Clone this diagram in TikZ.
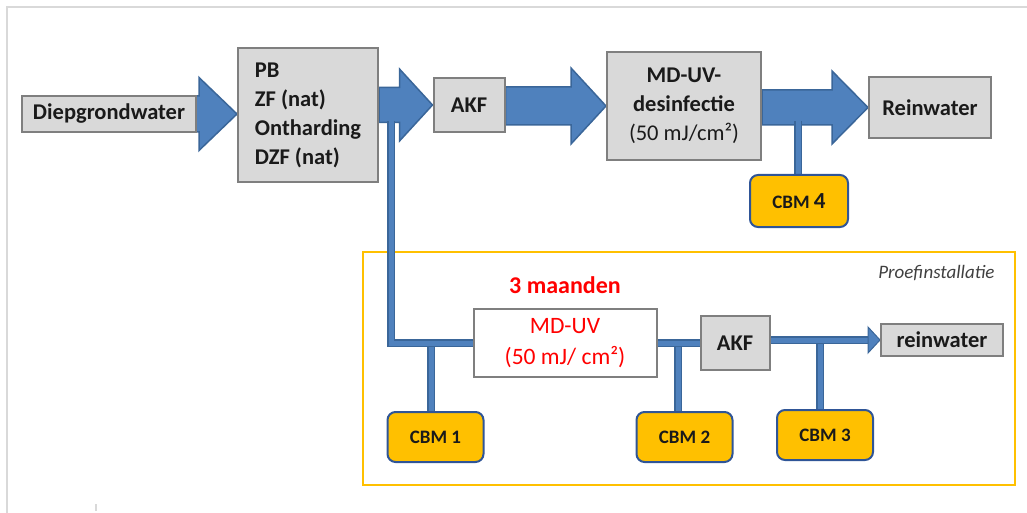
\documentclass[tikz,border=0pt]{standalone}
\usepackage{fontspec}
\setmainfont{Carlito}
\usetikzlibrary{calc,backgrounds}
\definecolor{boxgray}{HTML}{D9D9D9}
\definecolor{boxedge}{HTML}{7F7F7F}
\definecolor{bluefill}{HTML}{4F81BD}
\definecolor{blueedge}{HTML}{3A6699}
\definecolor{cbmfill}{HTML}{FFC000}
\definecolor{cbmedge}{HTML}{2F5597}
\definecolor{frameorange}{HTML}{FFC000}
\definecolor{textdark}{HTML}{1A1A1A}
\definecolor{pagegray}{HTML}{D9D9D9}
\definecolor{notegray}{HTML}{404040}
\tikzset{
  graybox/.style={draw=boxedge, line width=2pt, fill=boxgray, inner sep=0pt, text=textdark,
    font=\fontsize{22.5}{29}\selectfont\bfseries},
  whitebox/.style={draw=boxedge, line width=2pt, fill=white, inner sep=0pt, text=red,
    font=\fontsize{23.5}{31}\selectfont},
  cbmbox/.style={draw=cbmedge, line width=2pt, fill=cbmfill, rounded corners=8pt, inner sep=0pt,
    minimum width=96pt, minimum height=50pt, font=\fontsize{19}{22}\selectfont\bfseries, text=textdark},
  barrow/.style={fill=bluefill, draw=blueedge, line width=1.5pt, line join=miter},
  pipe/.style={draw=bluefill, line width=5pt, line join=miter,
    preaction={draw=blueedge, line width=8pt, line join=miter}},
  tiphead/.style={fill=bluefill, draw=blueedge, line width=1pt},
  framebox/.style={draw=frameorange, line width=2.5pt, inner sep=0pt},
}
% #1 start node anchor, #2 tip anchor, #3 shaft half, #4 head half, #5 head length
\newcommand\blockarr[5]{%
  \path[barrow] ($(#1 |- #2)+(0,#3)$) -- ($(#2)+(-#5,#3)$) -- ($(#2)+(-#5,#4)$) -- (#2)
    -- ($(#2)+(-#5,-#4)$) -- ($(#2)+(-#5,-#3)$) -- ($(#1 |- #2)+(0,-#3)$) -- cycle;}
\begin{document}
\begin{tikzpicture}[x=1pt,y=-1pt]
\useasboundingbox (0,0) rectangle (1027,513);
\draw[pagegray, line width=2pt] (7,513) -- (7,7) -- (1027,7);
\draw[pagegray, line width=1.5pt] (96,504) -- (96,511);

% top row
\node[graybox, minimum width=174pt, minimum height=36pt] (dg) at (109,114) {Diepgrondwater};
\node[graybox, minimum width=140pt, minimum height=134pt, align=left] (pb) at (308,115)
  {PB\\ZF (nat)\\Ontharding\\DZF (nat)};
\node[graybox, minimum width=71pt, minimum height=54pt] (akf) at (469,105) {AKF};
\node[graybox, minimum width=154pt, minimum height=108pt, align=center] (mduv) at (684,106)
  {MD-UV-\\desinfectie\\{\mdseries (50 mJ/cm²)}};
\node[graybox, minimum width=122pt, minimum height=61pt] (rw) at (930,107.5) {Reinwater};
\node[cbmbox, minimum width=98pt, minimum height=52pt] (cbm4) at (799,201)
  {CBM {\fontsize{23}{23}\selectfont 4}};

% test installation
\node[red, font=\fontsize{24}{27}\selectfont\bfseries] (maand) at (565,285) {3 maanden};
\node[anchor=east, text=notegray, font=\fontsize{19}{21}\selectfont\itshape] (proef) at (998,273)
  {Proefinstallatie};
\node[whitebox, minimum width=183pt, minimum height=68pt, align=center] (mduv2) at (565,343)
  {MD-UV\\(50 mJ/ cm²)};
\node[graybox, minimum width=69pt, minimum height=54pt] (akf2) at (735,343) {AKF};
\node[graybox, minimum width=122pt, minimum height=32pt] (rw2) at (942,340) {reinwater};
\node[cbmbox] (cbm1) at (435.5,437) {CBM 1};
\node[cbmbox] (cbm2) at (684.5,437) {CBM 2};
\node[cbmbox] (cbm3) at (825,435) {CBM 3};

\coordinate (v0) at (391,121);
\coordinate (j0) at (391,343);
\coordinate (t1) at (431,343);
\coordinate (t2) at (678,343);
\coordinate (t3) at (820,343);
\coordinate (t4) at (798,121);
\coordinate (hb) at (868,340);

\begin{pgfonlayer}{background}
  \node[framebox, minimum width=652pt, minimum height=233pt] (frame) at (689,368.5) {};
  \blockarr{dg.center}{pb.west |- dg.east}{18}{36.5}{38}
  \blockarr{pb.east}{akf.west}{17.5}{36}{33}
  \blockarr{akf.east}{mduv.west}{19}{38}{35}
  \blockarr{mduv.east}{rw.west}{17.5}{36.5}{36}
  \draw[pipe] (t4) -- (t4 |- cbm4.north);
  \draw[pipe] (t1) -- (t1 |- cbm1.north);
  \draw[pipe] (t2) -- (t2 |- cbm2.north);
  \draw[pipe] (t3) -- (t3 |- cbm3.north);
  \draw[pipe] (v0) -- (j0) -- (mduv2.west);
  \draw[pipe] (mduv2.east) -- (akf2.west);
  \draw[pipe] (akf2.east |- hb) -- (hb);
  \path[tiphead] ($(hb)+(0,-13)$) -- (rw2.west) -- ($(hb)+(0,13)$) -- cycle;
\end{pgfonlayer}
\end{tikzpicture}
\end{document}
